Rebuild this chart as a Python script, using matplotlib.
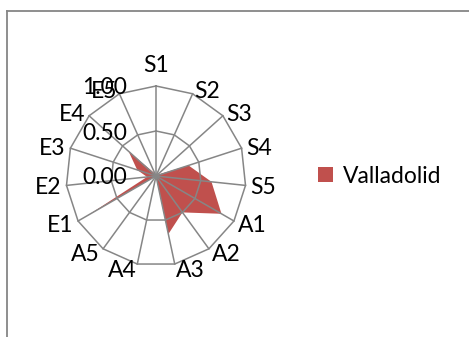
import numpy as np
import matplotlib
matplotlib.use("Agg")
import matplotlib.pyplot as plt
from matplotlib.lines import Line2D
from matplotlib.patches import Patch

plt.rcParams['font.family'] = ['Lato', 'DejaVu Sans']

categories = ['S1', 'S2', 'S3', 'S4', 'S5', 'A1', 'A2', 'A3', 'A4', 'A5',
              'E1', 'E2', 'E3', 'E4', 'E5']
values = [0.00, 0.00, 0.02, 0.38, 0.62, 0.84, 0.50, 0.66, 0.00, 0.00,
          0.87, 0.10, 0.22, 0.41, 0.03]
series_name = 'Valladolid'
r_ticks = [0.0, 0.5, 1.0]
r_tick_labels = ['0.00', '0.50', '1.00']

FILL = '#C0504D'
GRID = '#868686'
FS = 16.5

W, H = 469, 337
fig = plt.figure(figsize=(W / 100, H / 100), dpi=100)
fig.patch.set_facecolor('white')

# chart-area border (left and top edges visible)
bx, by = 6.5 / W, 1 - 10.5 / H
fig.add_artist(Line2D([bx, bx], [0, by], color=GRID, lw=1.3))
fig.add_artist(Line2D([bx, 1], [by, by], color=GRID, lw=1.3))

cx, cy, rad = 156, 176, 90
ax = fig.add_axes([(cx - rad) / W, (H - cy - rad) / H, 2 * rad / W, 2 * rad / H],
                  projection='polar')
ax.set_theta_offset(np.pi / 2)
ax.set_theta_direction(-1)
ax.set_ylim(0, 1)
ax.set_axis_off()

n = len(categories)
theta = np.arange(n) * 2 * np.pi / n
theta_c = np.append(theta, theta[0])

# series area
vals_c = np.append(values, values[0])
ax.fill(theta_c, vals_c, color=FILL, lw=0, zorder=1)

# polygonal grid rings and spokes
for r in r_ticks[1:]:
    ax.plot(theta_c, np.full(n + 1, r), color=GRID, lw=1.1, zorder=2, clip_on=False)
for t in theta:
    ax.plot([t, t], [0, 1], color=GRID, lw=1.1, zorder=2, clip_on=False)

# value axis labels
for r, lab in zip(r_ticks, r_tick_labels):
    ax.annotate(lab, xy=(0, r), xytext=(-29, 0), textcoords='offset pixels',
                ha='right', va='center_baseline', fontsize=FS, color='black',
                annotation_clip=False)

# category labels
for t, lab in zip(theta, categories):
    s, c = np.sin(t), np.cos(t)
    pad = 5
    if abs(s) < 0.05:
        ha = 'center'
        pad += 17
    elif s > 0:
        ha = 'left'
    else:
        ha = 'right'
    ax.annotate(lab, xy=(t, 1.0), xytext=(pad * s, pad * c),
                textcoords='offset pixels', ha=ha, va='center_baseline',
                fontsize=FS, color='black', annotation_clip=False)

fig.legend(handles=[Patch(facecolor=FILL, edgecolor='none', label=series_name)],
           loc='center left', bbox_to_anchor=(318 / W, 1 - 176 / H),
           frameon=False, fontsize=FS, handlelength=15 / 22.9,
           handleheight=14 / 22.9, handletextpad=10 / 22.9,
           borderpad=0, borderaxespad=0)

fig.savefig('out.png', dpi=100)
